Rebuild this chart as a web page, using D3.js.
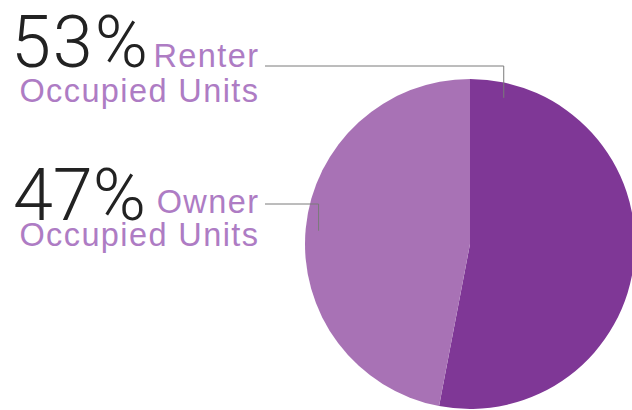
<!DOCTYPE html>
<html>
<head>
<meta charset="utf-8">
<script src="https://cdn.jsdelivr.net/npm/d3@7/dist/d3.min.js"></script>
<style>
  html, body { margin: 0; padding: 0; background: #fff; }
  svg { display: block; }
</style>
</head>
<body>
<svg id="chart" width="632" height="410"></svg>
<script>
// Housing tenure shares
const categories = ["Renter", "Owner"];
const values = [53, 47];
const labelLines = [["Renter", "Occupied Units"], ["Owner", "Occupied Units"]];
const colors = ["#7f3796", "#a872b5"];

const svg = d3.select("#chart");
const cx = 470, cy = 244, radius = 165;

const pie = d3.pie().sort(null).value(d => d)(values);
const arc = d3.arc().innerRadius(0).outerRadius(radius);

const g = svg.append("g").attr("transform", `translate(${cx},${cy})`);
g.selectAll("path")
  .data(pie)
  .join("path")
  .attr("d", arc)
  .attr("fill", (d, i) => colors[i]);

// Label blocks on the left, with elbow leaders into each slice
const blocks = [
  { pctX: 150, pctY: 67, nameY: 67, subY: 102, lineY: 66, tipAngle: 13 * Math.PI / 180, tipR: 150 },
  { pctX: 146, pctY: 220, nameY: 213, subY: 246, lineY: 204, tipAngle: -85 * Math.PI / 180, tipR: 152 }
];
const ls = 1.4;
const pctLs = 2;
const textRight = 258 + ls;
const fmt = d => d3.format("d")(d) + "%";

blocks.forEach((b, i) => {
  const tipX = cx + b.tipR * Math.sin(b.tipAngle);
  const tipY = cy - b.tipR * Math.cos(b.tipAngle);

  svg.append("path")
    .attr("d", `M265,${b.lineY}H${tipX}V${tipY}`)
    .attr("fill", "none")
    .attr("stroke", "#7a7a7a")
    .attr("stroke-width", 1);

  svg.append("text")
    .attr("x", b.pctX).attr("y", b.pctY)
    .attr("text-anchor", "end")
    .attr("font-family", "Roboto, 'Liberation Sans', sans-serif")
    .attr("font-weight", 300)
    .attr("font-size", 72)
    .attr("letter-spacing", i === 0 ? pctLs : 0)
    .attr("fill", "#222")
    .text(fmt(values[i]));

  [[labelLines[i][0], b.nameY], [labelLines[i][1], b.subY]].forEach(([t, y]) => {
    svg.append("text")
      .attr("x", textRight).attr("y", y)
      .attr("text-anchor", "end")
      .attr("font-family", "'Liberation Sans', Arial, sans-serif")
      .attr("font-size", 32.5)
      .attr("letter-spacing", ls)
      .attr("fill", "#ae7cc4")
      .text(t);
  });
});
</script>
</body>
</html>
